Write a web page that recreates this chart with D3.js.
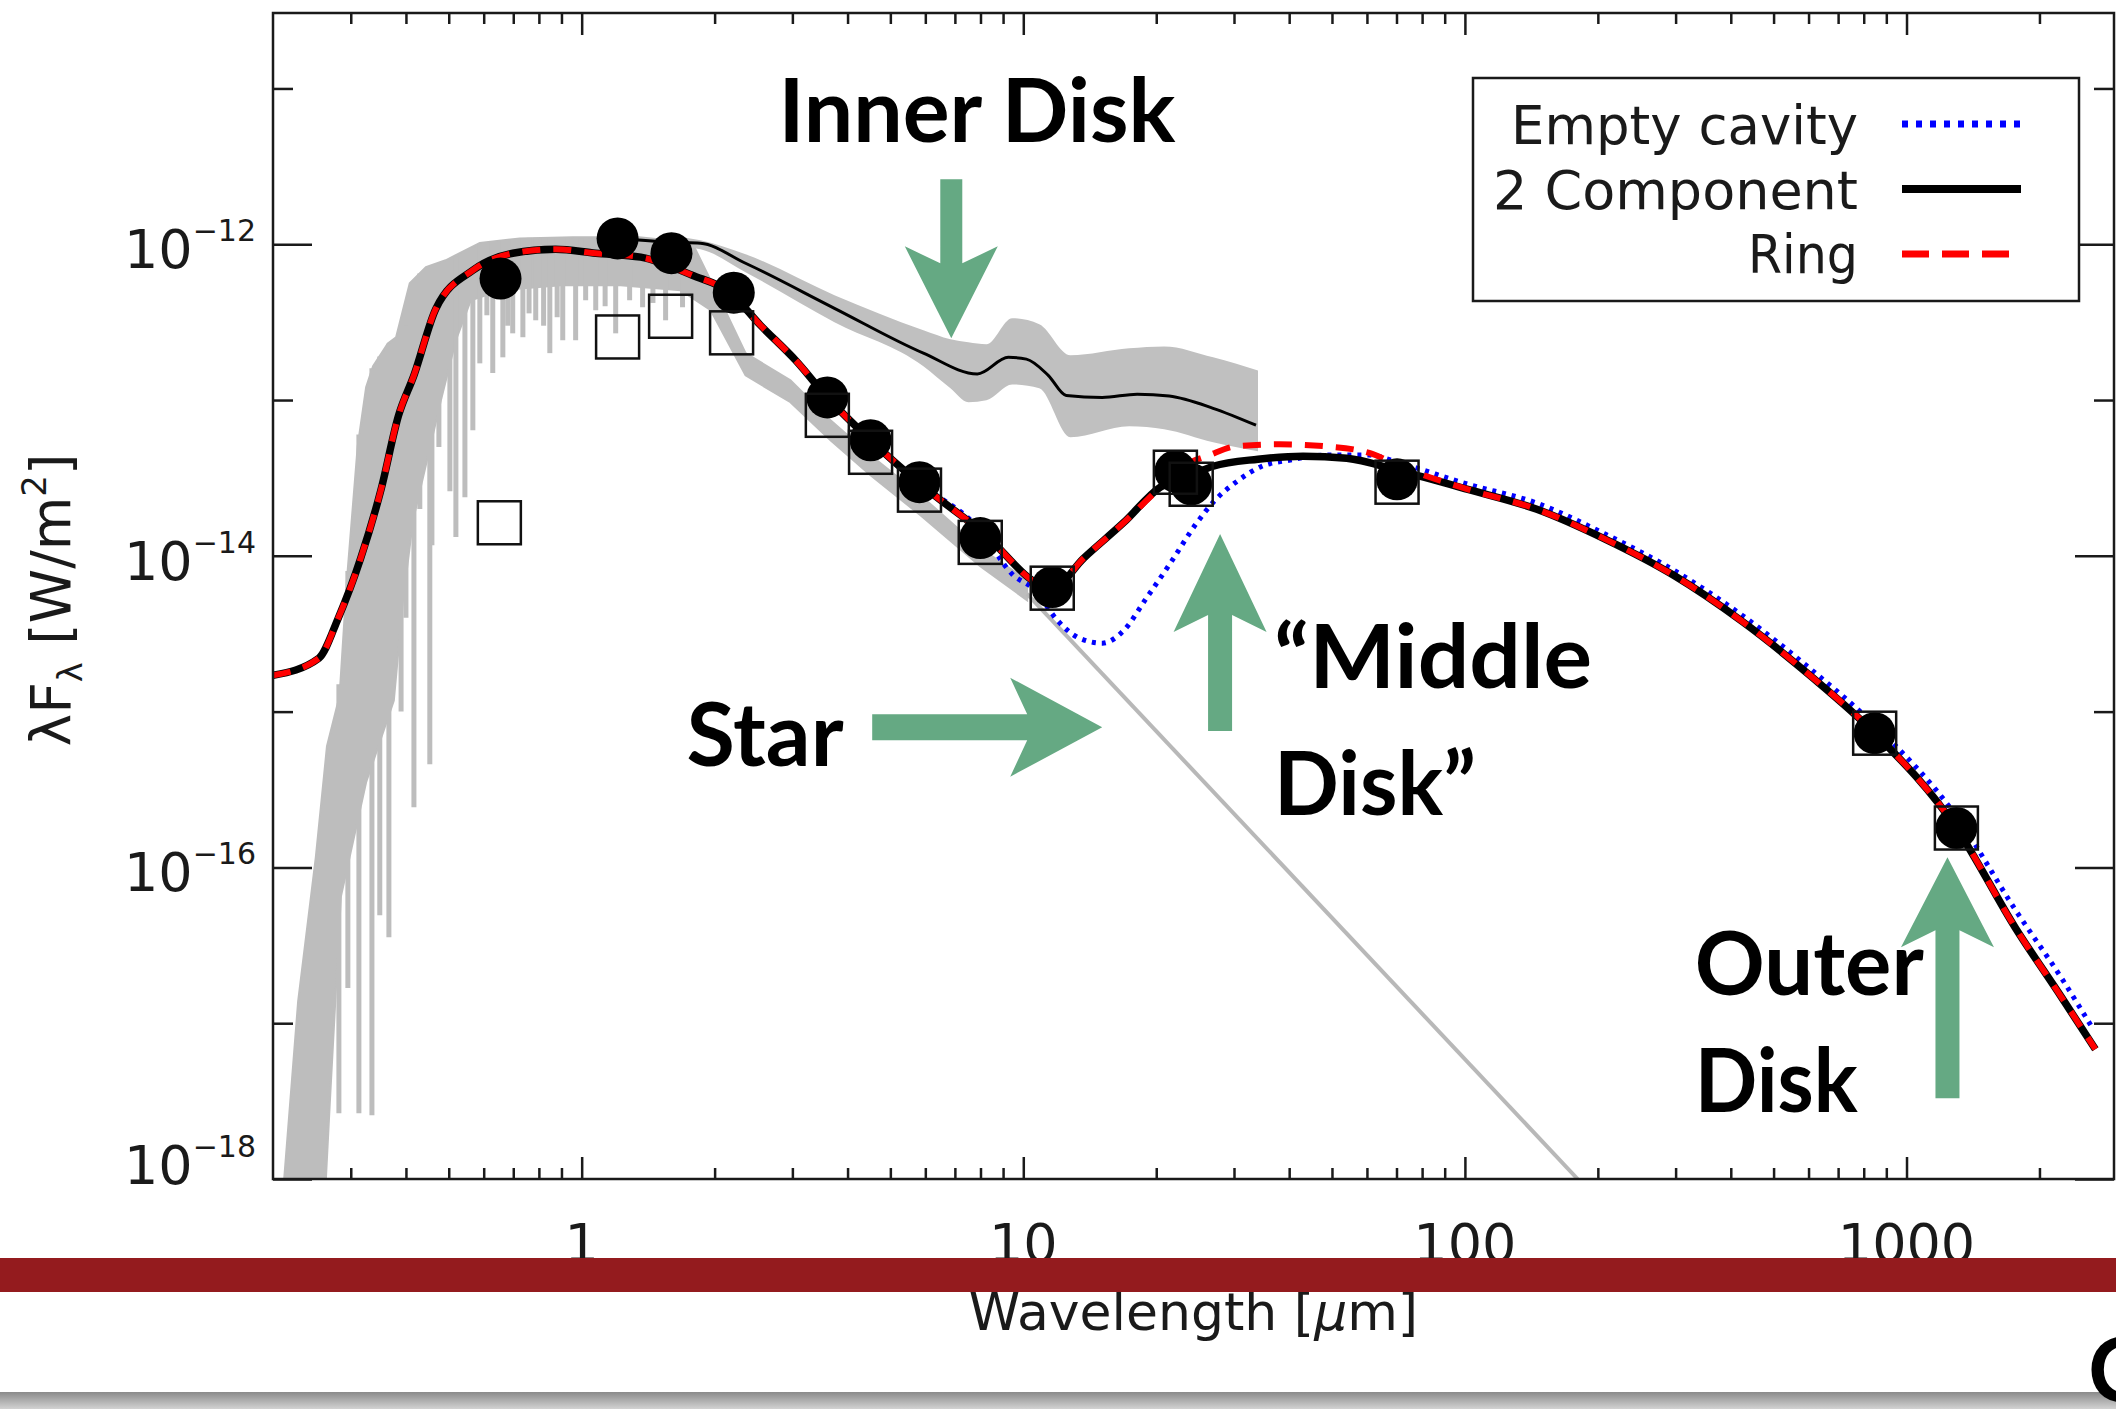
<!DOCTYPE html>
<html>
<head>
<meta charset="utf-8">
<script src="https://cdn.jsdelivr.net/npm/d3@7"></script>
<style>
body { margin: 0; background: #fff; }
svg { display: block; }
.lbl { font-family: "DejaVu Sans", sans-serif; font-weight: 400; fill: #1a1a1a; }
.ann { font-family: Lato, "Open Sans", sans-serif; font-weight: 700; fill: #000; }
</style>
</head>
<body>
<script>
// ---- data (wavelength in micron, lambda*F_lambda in W/m^2) ----
var photometry = [[0.655,6.02e-13],[1.206,1.09e-12],[1.597,8.76e-13],[2.21,4.89e-13],[3.60,1.04e-13],
    [4.51,5.52e-14],[5.82,2.97e-14],[7.99,1.30e-14],[11.63,6.3e-15],[22.1,3.49e-14],[24.0,2.88e-14],
    [70.2,3.1e-14],[847,7.27e-16],[1297,1.79e-16]];

var photometryOpen = [[0.651,1.63e-14],[1.206,2.54e-13],[1.590,3.45e-13],[2.185,2.70e-13],[3.60,7.98e-14],
    [4.51,4.62e-14],[5.82,2.64e-14],[7.99,1.22e-14],[11.63,6.2e-15],[22.1,3.44e-14],[24.0,2.88e-14],
    [70.2,2.97e-14],[847,7.27e-16],[1297,1.79e-16]];

var twoComponent = [[0.200,1.71e-15],[0.254,2.20e-15],[0.281,3.98e-15],[0.316,9.66e-15],[0.351,2.64e-14],
    [0.385,7.98e-14],[0.417,1.44e-13],[0.468,3.88e-13],[0.567,6.81e-13],[0.698,8.75e-13],[0.873,9.29e-13],
    [1.076,8.75e-13],[1.36,8.26e-13],[1.78,6.32e-13],[2.16,4.92e-13],[2.54,3.02e-13],[3.05,1.80e-13],
    [3.60,1.04e-13],[4.51,5.52e-14],[5.82,2.92e-14],[7.99,1.46e-14],[11.63,6.19e-15],[13.7,9.66e-15],
    [16.9,1.64e-14],[20.4,2.75e-14],[24.0,3.29e-14],[26.9,3.76e-14],[34.0,4.17e-14],[43.0,4.36e-14],
    [54.0,4.23e-14],[70.2,3.55e-14],[101.6,2.67e-14],[145.5,1.99e-14],[207.7,1.28e-14],[297,7.50e-15],
    [424,3.80e-15],[607,1.69e-15],[847,7.27e-16],[1297,1.79e-16],[1766,4.07e-17],[2243,1.47e-17],[2677,6.81e-18]];

var ringModel = [[0.200,1.71e-15],[0.254,2.20e-15],[0.281,3.98e-15],[0.316,9.66e-15],[0.351,2.64e-14],
    [0.385,7.98e-14],[0.417,1.44e-13],[0.468,3.88e-13],[0.567,6.81e-13],[0.698,8.75e-13],[0.873,9.29e-13],
    [1.076,8.75e-13],[1.36,8.26e-13],[1.78,6.32e-13],[2.16,4.92e-13],[2.54,3.02e-13],[3.05,1.80e-13],
    [3.60,1.04e-13],[4.51,5.52e-14],[5.82,2.92e-14],[7.99,1.46e-14],[11.63,6.19e-15],[13.7,9.66e-15],
    [16.9,1.64e-14],[20.4,2.75e-14],[22.65,3.65e-14],[26.4,4.43e-14],[30.3,5.05e-14],[38.1,5.20e-14],
    [48.2,5.05e-14],[61.0,4.56e-14],[70.2,3.82e-14],[101.6,2.67e-14],[145.5,1.99e-14],[207.7,1.28e-14],
    [297,7.50e-15],[424,3.80e-15],[607,1.69e-15],[847,7.27e-16],[1297,1.79e-16],[1766,4.07e-17],
    [2243,1.47e-17],[2677,6.81e-18]];

var emptyCavity = [[0.200,1.71e-15],[0.254,2.20e-15],[0.281,3.98e-15],[0.316,9.66e-15],[0.351,2.64e-14],
    [0.385,7.98e-14],[0.417,1.44e-13],[0.468,3.88e-13],[0.567,6.81e-13],[0.698,8.75e-13],[0.873,9.29e-13],
    [1.076,8.75e-13],[1.36,8.26e-13],[1.78,6.32e-13],[2.16,4.92e-13],[2.54,3.02e-13],[3.05,1.80e-13],
    [3.60,1.04e-13],[4.51,5.52e-14],[5.82,2.92e-14],[7.99,1.46e-14],[9.44,7.62e-15],[10.64,6.01e-15],
    [11.94,3.86e-15],[13.4,2.96e-15],[15.1,2.75e-15],[16.9,3.33e-15],[19.0,5.35e-15],[21.6,9.10e-15],
    [24.6,1.60e-14],[27.2,2.28e-14],[30.3,2.97e-14],[34.7,3.76e-14],[40.0,4.11e-14],[48.2,4.43e-14],
    [61.0,4.43e-14],[70.2,3.99e-14],[101.6,2.88e-14],[145.5,2.18e-14],[207.7,1.38e-14],[297,8.09e-15],
    [424,4.16e-15],[607,1.87e-15],[847,8.18e-16],[1297,2.13e-16],[1766,5.31e-17],[2243,1.95e-17],[2647,9.14e-18]];

// stellar photosphere spectrum: dense band (top and bottom edges) plus absorption spikes
var starUpper = [[0.212,1.0e-18],[0.228,1.38e-17],[0.250,1.16e-16],[0.265,5.99e-16],[0.283,1.26e-15],
    [0.294,6.97e-15],[0.311,5.05e-14],[0.325,1.21e-13],[0.337,1.65e-13],[0.364,2.31e-13],[0.380,2.53e-13],
    [0.408,5.62e-13],[0.444,7.12e-13],[0.492,7.89e-13],[0.588,1.02e-12],[0.724,1.09e-12],[0.954,1.11e-12],
    [1.35,1.11e-12],[1.78,1.02e-12],[1.90,7.0e-13],[2.06,4.37e-13],[2.35,2.0e-13],[2.97,1.34e-13],
    [3.66,7.42e-14],[4.51,4.42e-14],[5.85,2.45e-14],[7.99,1.12e-14],[10.2,6.97e-15]];
var starLower = [[0.2635,1.0e-18],[0.269,3.11e-18],[0.285,6.53e-17],[0.325,3.52e-16],[0.3755,1.18e-15],
    [0.394,5.19e-15],[0.415,1.69e-14],[0.441,3.54e-14],[0.480,9.97e-14],[0.519,2.42e-13],[0.561,4.37e-13],
    [0.656,5.07e-13],[0.897,5.45e-13],[1.225,5.45e-13],[1.675,5.07e-13],[1.96,3.77e-13],[2.35,1.44e-13],
    [2.97,9.68e-14],[3.66,5.52e-14],[4.51,3.29e-14],[5.85,1.82e-14],[7.99,8.58e-15],[10.2,5.19e-15]];
var starSpikes = [[0.282,1.5e-15,2.64e-18],[0.2955,8e-15,1.68e-17],[0.313,6e-14,2.64e-18],[0.335,1.6e-13,2.57e-18],
    [0.349,1.9e-13,4.93e-17],[0.366,2.3e-13,3.56e-17],[0.39,2.5e-13,1.0e-15],[0.40,3.0e-13,4.0e-15],
    [0.417,5.6e-13,2.43e-16],[0.43,6.5e-13,2.0e-14],[0.453,7.1e-13,4.6e-16],
    [0.458,7.2e-13,1.17e-14],[0.475,7.5e-13,5.0e-14],[0.503,8.0e-13,2.6e-14],[0.519,8.3e-13,1.32e-14],
    [0.544,8.8e-13,2.38e-14],[0.567,9.5e-13,6.4e-14],[0.588,1.0e-12,1.72e-13],[0.61,1.03e-12,3.5e-13],
    [0.629,1.04e-12,1.49e-13],[0.663,1.06e-12,1.88e-13],[0.68,1.07e-12,3.0e-13],
    [0.698,1.08e-12,2.68e-13],[0.736,1.09e-12,2.53e-13],[0.76,1.1e-12,3.6e-13],[0.787,1.1e-12,3.25e-13],
    [0.82,1.1e-12,3.0e-13],[0.847,1.1e-12,2.0e-13],[0.88,1.1e-12,3.4e-13],
    [0.906,1.1e-12,2.42e-13],[0.969,1.1e-12,2.42e-13],[1.021,1.1e-12,4.37e-13],[1.076,1.1e-12,3.77e-13],
    [1.13,1.1e-12,4.0e-13],[1.194,1.1e-12,2.68e-13],[1.284,1.1e-12,4.37e-13],[1.374,1.1e-12,3.94e-13],
    [1.45,1.08e-12,4.2e-13],[1.549,1.05e-12,3.25e-13],[1.692,1.03e-12,3.94e-13]];
var photosphere = [[10.2,5.7e-15],[180,1.0e-18]];

// inner disk spectrum with its grey uncertainty band
var innerSpec = [[1.206,1.093e-12],[1.597,1.03e-12],[1.858,1.015e-12],[2.350,7.55e-13],[3.736,3.88e-13],
    [5.94,2.00e-13],[7.87,1.47e-13],[9.25,1.88e-13],[10.16,1.83e-13],[11.39,1.44e-13],[12.51,1.07e-13],
    [15.09,1.04e-13],[18.11,1.09e-13],[21.4,1.06e-13],[26.9,8.85e-14],[33.65,6.89e-14]];
var innerBand = [[1.597,9.71e-13,1.13e-12],[1.858,9.29e-13,1.06e-12],[2.350,6.61e-13,8.62e-13],
    [3.736,3.16e-13,4.71e-13],[5.94,1.65e-13,2.81e-13],[6.84,1.19e-13,2.46e-13],[7.51,9.68e-14,2.35e-13],
    [8.25,9.97e-14,2.28e-13],[9.44,1.26e-13,3.35e-13],[10.87,1.19e-13,3.07e-13],[12.78,5.77e-14,1.94e-13],
    [17.37,6.79e-14,2.15e-13],[20.84,6.50e-14,2.21e-13],[26.9,5.36e-14,1.88e-13],[34.0,4.69e-14,1.55e-13]];

var xTickLabels = [1, 10, 100, 1000];
var yTickPowers = [-18, -16, -14, -12];
var legendNames = ["Empty cavity", "2 Component", "Ring"];

var annotations = [
    {lines: ["Inner Disk"], lam: 2.79, flux: 4.52e-12, widths: [397]},
    {lines: ["Star"], lam: 1.728, flux: 4.46e-16, widths: [157]},
    {lines: ["\u201CMiddle", "Disk\u201D"], lam: 36.98, flux: 1.41e-15, widths: [318, 202], lead: 127},
    {lines: ["Outer", "Disk"], lam: 331.5, flux: 1.51e-17, widths: [229, 163], lead: 117}
];
var arrows = [
    {lam: 6.87, flux: 2.49e-13, angle: 90, len: 159, head: 92, notch: 75, hw: 46.5, sw: 11},
    {lam: 15.09, flux: 7.94e-16, angle: 0, len: 230, head: 92, notch: 75, hw: 49.5, sw: 13},
    {lam: 27.9, flux: 1.38e-14, angle: -90, len: 197, head: 98, notch: 81, hw: 46.5, sw: 12},
    {lam: 1238, flux: 1.16e-16, angle: -90, len: 241, head: 90, notch: 73, hw: 46.5, sw: 12}
];

// ---- layout ----
var W = 2116, H = 1409;
var plot = {left: 273, right: 2114, top: 13, bottom: 1179};

var svg = d3.select("body").append("svg")
    .attr("width", W)
    .attr("height", H);

svg.append("rect").attr("width", W).attr("height", H).attr("fill", "#fff");

var x = d3.scaleLog().domain([0.2, 2950]).range([plot.left, plot.right]);
var y = d3.scaleLog().domain([1e-18, 3.05e-11]).range([plot.bottom, plot.top]);

svg.append("clipPath").attr("id", "plotclip")
    .append("rect")
    .attr("x", plot.left).attr("y", plot.top)
    .attr("width", plot.right - plot.left).attr("height", plot.bottom - plot.top);

var g = svg.append("g").attr("clip-path", "url(#plotclip)");

var line = d3.line().x(function(d) { return x(d[0]); }).y(function(d) { return y(d[1]); });
var smooth = d3.line().x(function(d) { return x(d[0]); }).y(function(d) { return y(d[1]); })
    .curve(d3.curveMonotoneX);

// star spectrum
var grey = "#bdbdbd";
g.append("path")
    .attr("d", line(starUpper.concat(starLower.slice().reverse())) + "Z")
    .attr("fill", grey).attr("stroke", grey).attr("stroke-width", 2);

g.selectAll(".spike")
    .data(starSpikes)
    .enter().append("line")
    .attr("class", "spike")
    .attr("x1", function(d) { return x(d[0]); })
    .attr("x2", function(d) { return x(d[0]); })
    .attr("y1", function(d) { return y(d[1]); })
    .attr("y2", function(d) { return y(d[2]); })
    .attr("stroke", grey).attr("stroke-width", 5);

g.append("path").attr("d", line(photosphere))
    .attr("fill", "none").attr("stroke", "#b8b8b8").attr("stroke-width", 4);

// inner disk band + spectrum
var band = d3.area()
    .x(function(d) { return x(d[0]); })
    .y0(function(d) { return y(d[1]); })
    .y1(function(d) { return y(d[2]); })
    .curve(d3.curveMonotoneX);
g.append("path").attr("d", band(innerBand)).attr("fill", "#c0c0c0");
g.append("path").attr("d", smooth(innerSpec))
    .attr("fill", "none").attr("stroke", "#000").attr("stroke-width", 3);

// models
g.append("path").attr("d", smooth(emptyCavity))
    .attr("fill", "none").attr("stroke", "#0000ff").attr("stroke-width", 5)
    .attr("stroke-dasharray", "4,6");
g.append("path").attr("d", smooth(twoComponent))
    .attr("fill", "none").attr("stroke", "#000").attr("stroke-width", 7.5)
    .attr("stroke-linejoin", "round");
g.append("path").attr("d", smooth(ringModel))
    .attr("fill", "none").attr("stroke", "#ff0000").attr("stroke-width", 6)
    .attr("stroke-dasharray", "18,13");

// photometry
g.selectAll(".dot")
    .data(photometry)
    .enter().append("circle")
    .attr("class", "dot")
    .attr("cx", function(d) { return x(d[0]); })
    .attr("cy", function(d) { return y(d[1]); })
    .attr("r", 21)
    .attr("fill", "#000");

g.selectAll(".sq")
    .data(photometryOpen)
    .enter().append("rect")
    .attr("class", "sq")
    .attr("x", function(d) { return x(d[0]) - 21.5; })
    .attr("y", function(d) { return y(d[1]) - 21.5; })
    .attr("width", 43).attr("height", 43)
    .attr("fill", "none").attr("stroke", "#111").attr("stroke-width", 2.5);

// ---- frame & ticks ----
var xMajor = xTickLabels.slice();
var xMinor = [];
[0.1, 1, 10, 100, 1000].forEach(function(dec) {
    for (var k = 2; k <= 9; k++) {
        var v = dec * k;
        if (v > 0.21 && v < 2900) xMinor.push(v);
    }
});
var yMajor = yTickPowers.map(function(p) { return Math.pow(10, p); });
var yMinor = [-17, -15, -13, -11].map(function(p) { return Math.pow(10, p); });

function styleAxis(sel) {
    sel.select(".domain").remove();
    sel.selectAll(".tick line").attr("stroke", "#1a1a1a").attr("stroke-width", 2.5);
    sel.selectAll(".tick text").remove();
}

svg.append("g").attr("transform", "translate(0," + plot.bottom + ")")
    .call(d3.axisBottom(x).tickValues(xMajor).tickSize(-22)).call(styleAxis);
svg.append("g").attr("transform", "translate(0," + plot.bottom + ")")
    .call(d3.axisBottom(x).tickValues(xMinor).tickSize(-11)).call(styleAxis);
svg.append("g").attr("transform", "translate(0," + plot.top + ")")
    .call(d3.axisTop(x).tickValues(xMajor).tickSize(-22)).call(styleAxis);
svg.append("g").attr("transform", "translate(0," + plot.top + ")")
    .call(d3.axisTop(x).tickValues(xMinor).tickSize(-11)).call(styleAxis);
svg.append("g").attr("transform", "translate(" + plot.left + ",0)")
    .call(d3.axisLeft(y).tickValues(yMajor).tickSize(-39)).call(styleAxis);
svg.append("g").attr("transform", "translate(" + plot.left + ",0)")
    .call(d3.axisLeft(y).tickValues(yMinor).tickSize(-20)).call(styleAxis);
svg.append("g").attr("transform", "translate(" + plot.right + ",0)")
    .call(d3.axisRight(y).tickValues(yMajor).tickSize(-39)).call(styleAxis);
svg.append("g").attr("transform", "translate(" + plot.right + ",0)")
    .call(d3.axisRight(y).tickValues(yMinor).tickSize(-20)).call(styleAxis);

svg.append("rect")
    .attr("x", plot.left).attr("y", plot.top)
    .attr("width", plot.right - plot.left).attr("height", plot.bottom - plot.top)
    .attr("fill", "none").attr("stroke", "#1a1a1a").attr("stroke-width", 2.5);

// y tick labels 10^n
yTickPowers.forEach(function(p) {
    var yy = y(Math.pow(10, p)) + (p === -18 ? 5 : 24);
    var t = svg.append("text").attr("class", "lbl")
        .attr("x", 256).attr("y", yy)
        .attr("text-anchor", "end")
        .style("font-size", "54px");
    t.append("tspan").text("10");
    t.append("tspan").attr("dy", -27).style("font-size", "30px").text("\u2212" + Math.abs(p));
});

// x tick labels
svg.selectAll(".xlbl")
    .data(xTickLabels)
    .enter().append("text")
    .attr("class", "lbl xlbl")
    .attr("x", function(d) { return x(d); })
    .attr("y", 1262)
    .attr("text-anchor", "middle")
    .style("font-size", "54px")
    .text(function(d) { return d; });

// axis titles
var xt = svg.append("text").attr("class", "lbl")
    .attr("x", (plot.left + plot.right) / 2).attr("y", 1330)
    .attr("text-anchor", "middle")
    .style("font-size", "52px");
xt.append("tspan").text("Wavelength [");
xt.append("tspan").style("font-style", "italic").text("\u03BC");
xt.append("tspan").text("m]");

var yt = svg.append("text").attr("class", "lbl")
    .attr("transform", "translate(70,600) rotate(-90)")
    .attr("text-anchor", "middle")
    .style("font-size", "55px");
yt.append("tspan").text("\u03BBF");
yt.append("tspan").attr("dy", 12).style("font-size", "34px").text("\u03BB");
yt.append("tspan").attr("dy", -12).text(" [W/m");
yt.append("tspan").attr("dy", -24).style("font-size", "34px").text("2");
yt.append("tspan").attr("dy", 24).text("]");

// ---- legend ----
var leg = svg.append("g");
leg.append("rect")
    .attr("x", 1473).attr("y", 78).attr("width", 606).attr("height", 223)
    .attr("fill", "#fff").attr("stroke", "#1a1a1a").attr("stroke-width", 2.5);
var legStyles = [
    {stroke: "#0000ff", width: 7, dash: "6,8"},
    {stroke: "#000", width: 8, dash: null},
    {stroke: "#ff0000", width: 7, dash: "27,13"}
];
var legWidths = [347, 365, 110];
legendNames.forEach(function(name, i) {
    leg.append("text").attr("class", "lbl")
        .attr("x", 1858).attr("y", 144 + i * 64.5)
        .attr("text-anchor", "end")
        .attr("textLength", legWidths[i])
        .attr("lengthAdjust", "spacingAndGlyphs")
        .style("font-size", "54px")
        .text(name);
    leg.append("line")
        .attr("x1", 1902).attr("x2", 2021)
        .attr("y1", 124 + i * 65).attr("y2", 124 + i * 65)
        .attr("stroke", legStyles[i].stroke)
        .attr("stroke-width", legStyles[i].width)
        .attr("stroke-dasharray", legStyles[i].dash);
});

// ---- annotations ----
var green = "#65a983";
arrows.forEach(function(a) {
    var pts = [[0, 0], [-a.head, -a.hw], [-a.notch, -a.sw], [-a.len, -a.sw],
               [-a.len, a.sw], [-a.notch, a.sw], [-a.head, a.hw]];
    svg.append("polygon")
        .attr("points", pts.map(function(p) { return p.join(","); }).join(" "))
        .attr("transform", "translate(" + x(a.lam) + "," + y(a.flux) + ") rotate(" + a.angle + ")")
        .attr("fill", green);
});

annotations.forEach(function(a) {
    a.lines.forEach(function(txt, i) {
        svg.append("text").attr("class", "ann")
            .attr("x", x(a.lam))
            .attr("y", y(a.flux) + i * (a.lead || 0))
            .attr("textLength", a.widths[i])
            .attr("lengthAdjust", "spacingAndGlyphs")
            .style("font-size", "88px")
            .text(txt);
    });
});

// ---- slide decorations ----
svg.append("rect").attr("x", 0).attr("y", 1258).attr("width", W).attr("height", 34)
    .attr("fill", "#941b1e");

var grad = svg.append("defs").append("linearGradient")
    .attr("id", "shade").attr("x1", 0).attr("x2", 0).attr("y1", 0).attr("y2", 1);
grad.append("stop").attr("offset", "0%").attr("stop-color", "#8a8a8a");
grad.append("stop").attr("offset", "100%").attr("stop-color", "#d2d2d2");
svg.append("rect").attr("x", 0).attr("y", 1392).attr("width", W).attr("height", 17)
    .attr("fill", "url(#shade)");

svg.append("text").attr("class", "ann")
    .attr("x", 2088).attr("y", 1402)
    .style("font-size", "90px")
    .text("C");
</script>
</body>
</html>
